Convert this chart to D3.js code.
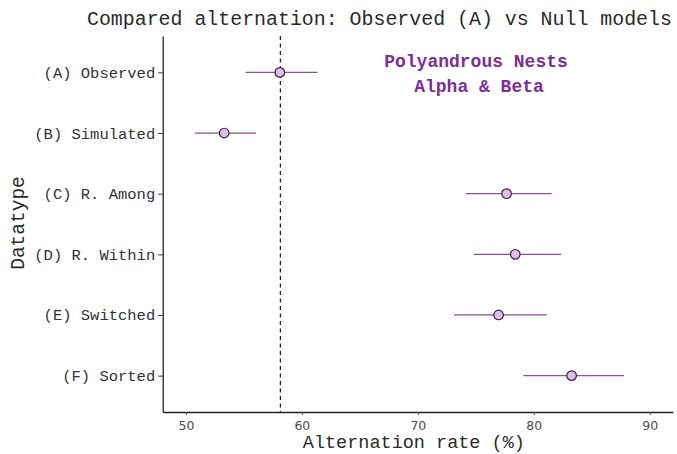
<!DOCTYPE html>
<html>
    <head>
        <meta charset="utf-8">
        <title></title>
        <script src="https://cdn.jsdelivr.net/npm/d3@7"></script>
        <style>
            body { margin: 0; background: #fff; }
            svg { background-color: #ffffff; display: block; }
            .mono { font-family: "Liberation Mono", "Courier New", monospace; }
        </style>
    </head>
    <body>
        <svg width="677" height="454"></svg>
        <script>
            // data
            var categories = ["(A) Observed", "(B) Simulated", "(C) R. Among", "(D) R. Within", "(E) Switched", "(F) Sorted"];
            var means = [58.10, 53.30, 77.65, 78.40, 76.96, 83.26];
            var lower = [55.15, 50.78, 74.12, 74.84, 73.10, 79.09];
            var upper = [61.35, 56.03, 81.53, 82.36, 81.12, 87.78];
            var xTicks = [50, 60, 70, 80, 90];
            var refLine = 58.15;

            var svg = d3.select("svg"),
                panelLeft = 162.7, panelRight = 673, panelTop = 36, panelBottom = 412;

            var x = d3.scaleLinear().domain([48, 92]).range([panelLeft, panelRight]);
            var y = d3.scalePoint().domain(categories).range([panelTop, panelBottom]).padding(0.6);

            // title
            svg.append("text").attr("class", "mono")
                .attr("x", 87).attr("y", 25)
                .attr("font-size", "19.9px").attr("fill", "#2a2a2a")
                .text("Compared alternation: Observed (A) vs Null models");

            // reference line
            svg.append("line")
                .attr("x1", x(refLine)).attr("x2", x(refLine))
                .attr("y1", panelTop).attr("y2", panelBottom)
                .attr("stroke", "#222").attr("stroke-width", 1.3)
                .attr("stroke-dasharray", "4,3.5");

            // x axis
            var gx = svg.append("g")
                .attr("transform", "translate(0," + panelBottom + ")")
                .call(d3.axisBottom(x).tickValues(xTicks).tickSize(3).tickSizeOuter(0).tickPadding(6));
            gx.select(".domain").attr("stroke", "#222").attr("stroke-width", 1.3);
            gx.selectAll(".tick line").attr("stroke", "#555");
            gx.selectAll(".tick text")
                .attr("font-family", "'DejaVu Sans', Verdana, sans-serif")
                .attr("font-size", "12.5px").attr("fill", "#4d4d4d");

            // y axis
            var gy = svg.append("g")
                .attr("transform", "translate(" + panelLeft + ",0)")
                .call(d3.axisLeft(y).tickSize(4.5).tickSizeOuter(0).tickPadding(3));
            gy.select(".domain").attr("stroke", "#222").attr("stroke-width", 1.3);
            gy.selectAll(".tick line").attr("stroke", "#333");
            gy.selectAll(".tick text")
                .attr("font-family", "'Liberation Mono', 'Courier New', monospace")
                .attr("font-size", "15.5px").attr("fill", "#333");

            // axis titles
            svg.append("text").attr("class", "mono")
                .attr("x", (panelLeft + panelRight) / 2 - 4).attr("y", 448)
                .attr("text-anchor", "middle")
                .attr("font-size", "18.5px").attr("fill", "#2a2a2a")
                .text("Alternation rate (%)");

            svg.append("text").attr("class", "mono")
                .attr("transform", "translate(24,223) rotate(-90)")
                .attr("text-anchor", "middle")
                .attr("font-size", "19.5px").attr("fill", "#2a2a2a")
                .text("Datatype");

            // error bars
            var rows = categories.map(function(c, i) {
                return {cat: c, m: means[i], lo: lower[i], hi: upper[i]};
            });

            svg.append("g").selectAll("line")
                .data(rows).enter().append("line")
                .attr("x1", function(d) { return x(d.lo); })
                .attr("x2", function(d) { return x(d.hi); })
                .attr("y1", function(d) { return y(d.cat); })
                .attr("y2", function(d) { return y(d.cat); })
                .attr("stroke", "#8a4f97").attr("stroke-width", 1.3);

            svg.append("g").selectAll("circle")
                .data(rows).enter().append("circle")
                .attr("cx", function(d) { return x(d.m); })
                .attr("cy", function(d) { return y(d.cat); })
                .attr("r", 4.8)
                .attr("fill", "#dcc0e6")
                .attr("stroke", "#3f1d47").attr("stroke-width", 1.2);

            // annotation
            var note = svg.append("text").attr("class", "mono")
                .attr("text-anchor", "middle")
                .attr("font-size", "18px").attr("font-weight", "bold")
                .attr("fill", "#7b2f96");
            note.append("tspan").attr("x", 476).attr("y", 66.5).text("Polyandrous Nests");
            note.append("tspan").attr("x", 479).attr("y", 91.5).text("Alpha & Beta");
        </script>
    </body>
</html>
